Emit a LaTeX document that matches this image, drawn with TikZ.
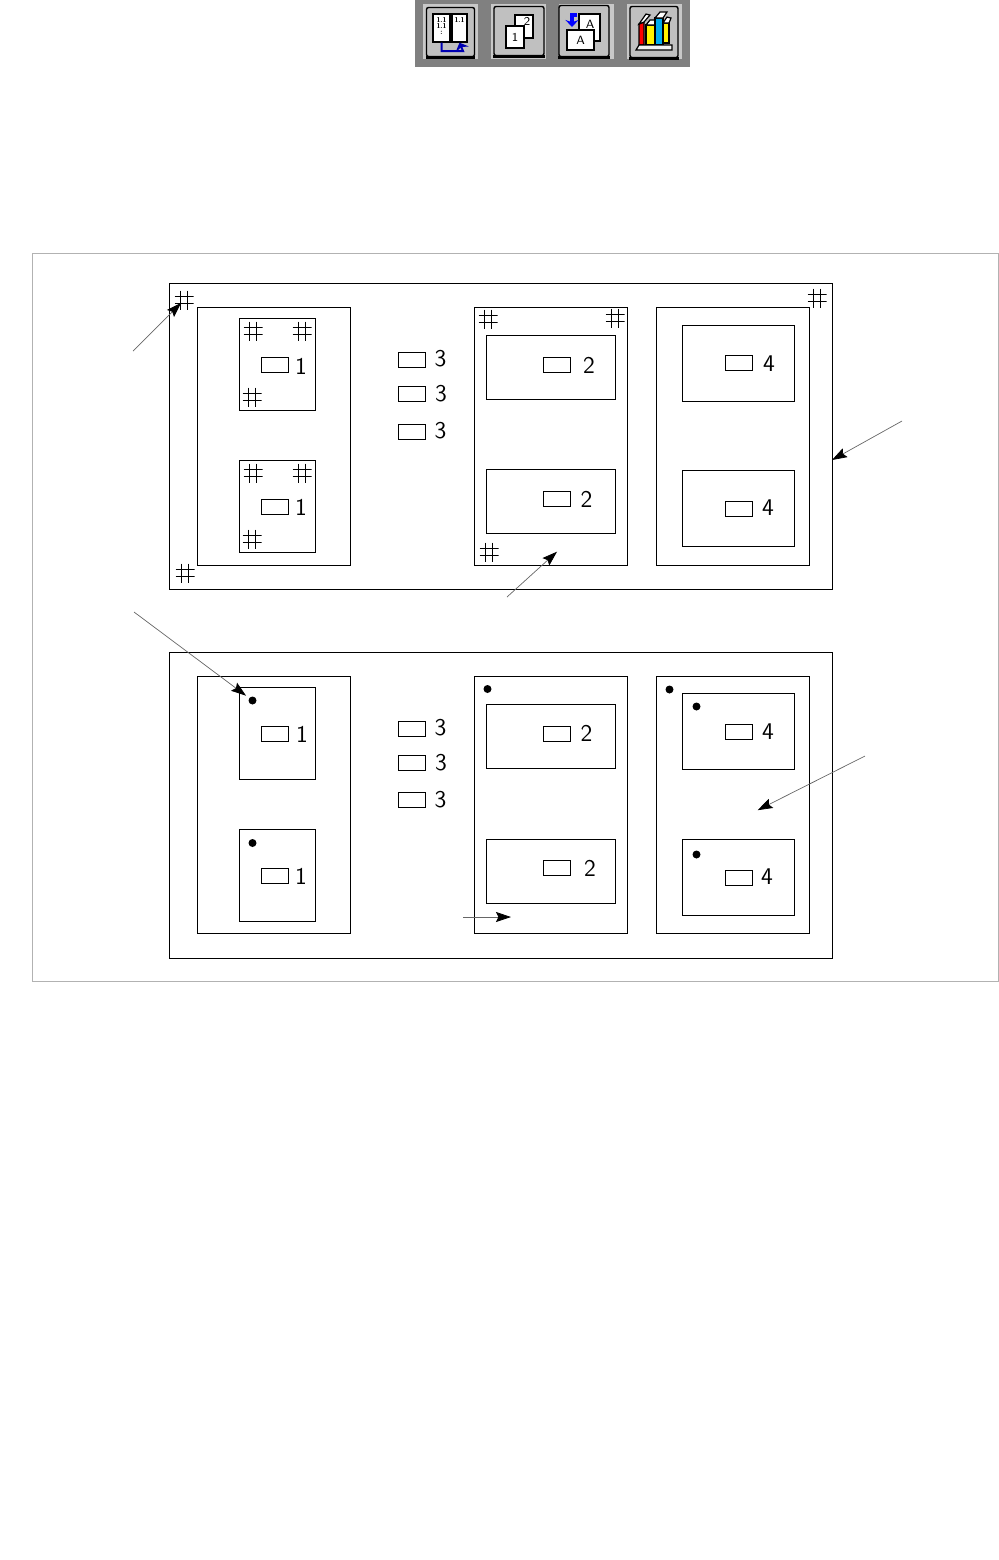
\documentclass[tikz,border=0pt]{standalone}
\usepackage{tikz}
\usetikzlibrary{arrows.meta}
\definecolor{barGray}{HTML}{808080}
\definecolor{faceGray}{HTML}{C0C0C0}
\definecolor{edgeGray}{HTML}{C8C8C8}
\tikzset{
  box/.style={rectangle, draw, line width=0.5pt, inner sep=0pt, outer sep=0pt},
  frameBox/.style={box, minimum width=331.5pt, minimum height=153pt},
  panel/.style={box, minimum width=76.5pt, minimum height=129pt},
  tallBox/.style={box, minimum width=38pt, minimum height=46pt},
  wideBox/.style={box, minimum width=64.5pt, minimum height=32pt},
  midBox/.style={box, minimum width=56pt, minimum height=38pt},
  tag/.style={box, minimum width=13.5pt, minimum height=7.5pt},
  digit/.style={inner sep=0pt, font=\sffamily\fontsize{12}{12}\selectfont},
  dot/.style={circle, fill=black, inner sep=0pt, outer sep=0pt, minimum size=4pt},
  gridmark/.style={rectangle, inner sep=0pt, outer sep=0pt, minimum size=9.5pt,
    path picture={
      \draw[line width=0.45pt]
        ([xshift=-1.6pt]path picture bounding box.north) -- ([xshift=-1.6pt]path picture bounding box.south)
        ([xshift=1.6pt]path picture bounding box.north) -- ([xshift=1.6pt]path picture bounding box.south)
        ([yshift=-1.6pt]path picture bounding box.west) -- ([yshift=-1.6pt]path picture bounding box.east)
        ([yshift=1.6pt]path picture bounding box.west) -- ([yshift=1.6pt]path picture bounding box.east);
    }},
  pointer/.style={draw=black!60, line width=0.35pt, shorten >=2pt,
    -{Stealth[length=7.5pt, width=5pt, inset=1.2pt, black]}},
  btnBack/.style={rectangle, fill=edgeGray, inner sep=0pt, minimum width=27.5pt, minimum height=27.5pt},
  btnFace/.style={rectangle, fill=faceGray, draw=black, line width=0.7pt, rounded corners=1pt, inner sep=0pt},
  sheet/.style={rectangle, draw=black, fill=white, line width=0.7pt, inner sep=0pt},
  tiny/.style={inner sep=0pt, font=\sffamily\fontsize{6}{6}\selectfont},
  micro/.style={inner sep=0pt, font=\sffamily\bfseries\fontsize{3.5}{3.5}\selectfont},
  book/.style={draw=black, line width=0.6pt}
}
\begin{document}
\begin{tikzpicture}[x=0.5pt, y=-0.5pt]
  \useasboundingbox (0, 0) rectangle (999, 1560);

  % toolbar
  \fill[barGray] (415, 0) rectangle (690, 67);
  \node[btnBack] (B1) at (450.5, 31.5) {};
  \node[btnBack] (B2) at (518.5, 31.5) {};
  \node[btnBack] (B3) at (586.5, 31.5) {};
  \node[btnBack] (B4) at (654.5, 31.5) {};
  \node[btnFace, minimum width=24pt, minimum height=24.5pt] (F1) at (450.5, 32) {};
  \node[btnFace, minimum width=25pt, minimum height=24.5pt] (F2) at (519, 31) {};
  \node[btnFace, minimum width=25pt, minimum height=25.5pt] (F3) at (584, 31) {};
  \node[btnFace, minimum width=24pt, minimum height=25.5pt] (F4) at (654, 32) {};
  \draw[line width=1.4pt] (F1.south west) -- (F1.south east);
  \draw[line width=1.4pt] (F2.south west) -- (F2.south east);
  \draw[line width=1.4pt] (F3.south west) -- (F3.south east);
  \draw[line width=1.4pt] (F4.south west) -- (F4.south east);

  % button 1
  \node[sheet, minimum width=8.5pt, minimum height=14pt] (S1) at (441.5, 28) {};
  \node[sheet, minimum width=7.5pt, minimum height=14pt] (S2) at (459.5, 28) {};
  \node[micro] at (441.5, 20) {1.1};
  \node[micro] at (441.5, 26) {1.1};
  \node[micro] at (441.5, 33) {:};
  \node[micro] at (459.5, 20) {1.1};
  \draw[blue!70!black, line width=1pt, -{Stealth[length=3.5pt, width=7pt]}] (S1.south) |- (463, 51) -- (S2.south);

  % button 2
  \node[sheet, minimum width=9pt, minimum height=11.5pt] (S3) at (524, 26.5) {};
  \node[sheet, minimum width=9pt, minimum height=11pt] (S4) at (515, 37) {};
  \node[tiny] at (527, 21) {2};
  \node[tiny] at (515, 37) {1};

  % button 3
  \node[sheet, minimum width=10.5pt, minimum height=13.5pt] (S5) at (589.5, 27.5) {};
  \node[sheet, minimum width=13.5pt, minimum height=10pt] (S6) at (580.5, 40) {};
  \node[tiny] at (590, 24) {A};
  \node[tiny] at (580.5, 40) {A};
  \draw[blue, line width=1.6pt, -{Stealth[length=3.5pt, width=6.5pt]}] (577, 15) -- (572, 15) -- (572, 27);

  % button 4
  \draw[book, fill=red] (639, 45) -- (639, 24) -- (644, 22) -- (644, 45) -- cycle;
  \draw[book, fill=white] (639, 24) -- (646, 14) -- (650, 15) -- (644, 22) -- cycle;
  \draw[book, fill=yellow] (646, 45) rectangle (655, 25);
  \draw[book, fill=white] (646, 25) -- (650, 20) -- (655, 20) -- (655, 25) -- cycle;
  \draw[book, fill=cyan] (655, 45) rectangle (663, 18);
  \draw[book, fill=white] (655, 18) -- (660, 12) -- (667, 12) -- (663, 18) -- cycle;
  \draw[book, fill=yellow] (663, 43) rectangle (669, 23);
  \draw[book, fill=white] (663, 23) -- (667, 17) -- (671, 18) -- (669, 23) -- cycle;
  \draw[line width=0.6pt, fill=white!80!faceGray] (636, 50) -- (639, 45) -- (672, 45) -- (672, 50) -- cycle;

  % outer sheet
  \node[rectangle, draw=black!30, line width=0.5pt, inner sep=0pt, minimum width=483pt, minimum height=364pt] (O) at (515, 617) {};

  % upper frame
  \node[frameBox] (T) at (500.5, 436) {};
  \node[panel] (TA) at (273.5, 436) {};
  \node[panel] (TB) at (550.5, 436) {};
  \node[panel] (TC) at (732.5, 436) {};
  \node[tallBox] (TA1) at (277, 364) {};
  \node[tallBox] (TA2) at (277, 506) {};
  \node[wideBox] (TB1) at (550.5, 367) {};
  \node[wideBox] (TB2) at (550.5, 501.5) {};
  \node[midBox] (TC1) at (738, 363) {};
  \node[midBox] (TC2) at (738, 508) {};

  \node[tag] (t1) at (274.5, 364.5) {};
  \node[tag] (t2) at (274.5, 506.5) {};
  \node[tag] (t3) at (411.5, 359.5) {};
  \node[tag] (t4) at (411.5, 394) {};
  \node[tag] (t5) at (411.5, 431.5) {};
  \node[tag] (t6) at (557, 365) {};
  \node[tag] (t7) at (557, 499) {};
  \node[tag] (t8) at (739, 362.5) {};
  \node[tag] (t9) at (739, 508.5) {};

  \node[digit] at (301, 366) {1};
  \node[digit] at (301, 507) {1};
  \node[digit] at (440.5, 359) {3};
  \node[digit] at (441, 394) {3};
  \node[digit] at (440.5, 431) {3};
  \node[digit] at (589, 365) {2};
  \node[digit] at (586.5, 499) {2};
  \node[digit] at (769, 364) {4};
  \node[digit] at (768, 508) {4};

  \node[gridmark] (h1) at (184, 300) {};
  \node[gridmark] (h2) at (185, 573) {};
  \node[gridmark] (h3) at (253, 331) {};
  \node[gridmark] (h4) at (302, 331) {};
  \node[gridmark] (h5) at (252, 397) {};
  \node[gridmark] (h6) at (253, 473) {};
  \node[gridmark] (h7) at (302, 473) {};
  \node[gridmark] (h8) at (252, 539) {};
  \node[gridmark] (h9) at (488, 319) {};
  \node[gridmark] (h10) at (615, 318) {};
  \node[gridmark] (h11) at (489, 552) {};
  \node[gridmark] (h12) at (817, 298) {};

  % lower frame
  \node[frameBox] (L) at (500.5, 805) {};
  \node[panel, minimum height=128.5pt] (LA) at (273.5, 804.5) {};
  \node[panel, minimum height=128.5pt] (LB) at (550.5, 804.5) {};
  \node[panel, minimum height=128.5pt] (LC) at (732.5, 804.5) {};
  \node[tallBox] (LA1) at (277, 733) {};
  \node[tallBox] (LA2) at (277, 875) {};
  \node[wideBox] (LB1) at (550.5, 736) {};
  \node[wideBox] (LB2) at (550.5, 871) {};
  \node[midBox] (LC1) at (738, 731.5) {};
  \node[midBox] (LC2) at (738, 877) {};

  \node[tag] (u1) at (274.5, 733.5) {};
  \node[tag] (u2) at (274.5, 875.5) {};
  \node[tag] (u3) at (411.5, 728.5) {};
  \node[tag] (u4) at (411.5, 762.5) {};
  \node[tag] (u5) at (411.5, 800) {};
  \node[tag] (u6) at (557, 733.5) {};
  \node[tag] (u7) at (557, 867.5) {};
  \node[tag] (u8) at (739, 731.5) {};
  \node[tag] (u9) at (739, 877.5) {};

  \node[digit] at (302, 734) {1};
  \node[digit] at (301, 876) {1};
  \node[digit] at (440.5, 728) {3};
  \node[digit] at (441, 763) {3};
  \node[digit] at (440.5, 800) {3};
  \node[digit] at (586.5, 733) {2};
  \node[digit] at (590, 868) {2};
  \node[digit] at (768, 732) {4};
  \node[digit] at (767, 877) {4};

  \node[dot] (d1) at (252.5, 700.5) {};
  \node[dot] (d2) at (252.5, 843) {};
  \node[dot] (d3) at (487.5, 689) {};
  \node[dot] (d4) at (669.5, 689.5) {};
  \node[dot] (d5) at (696.5, 706.5) {};
  \node[dot] (d6) at (696.5, 854.5) {};

  % callouts
  \coordinate (p1) at (133, 351);
  \coordinate (p2) at (902, 421);
  \coordinate (p3) at (832, 460);
  \coordinate (p4) at (507, 597);
  \coordinate (p5) at (560, 549);
  \coordinate (p6) at (134, 612);
  \coordinate (p7) at (865, 756);
  \coordinate (p8) at (754, 812);
  \coordinate (p9) at (463, 917);
  \coordinate (p10) at (515, 917);

  \path (p1) edge [pointer, shorten >=2pt] (h1.center);
  \path (p2) edge [pointer, shorten >=0pt] (p3);
  \path (p4) edge [pointer] (p5);
  \path (p6) edge [pointer] (d1);
  \path (p7) edge [pointer] (p8);
  \path (p9) edge [pointer] (p10);
\end{tikzpicture}
\end{document}
